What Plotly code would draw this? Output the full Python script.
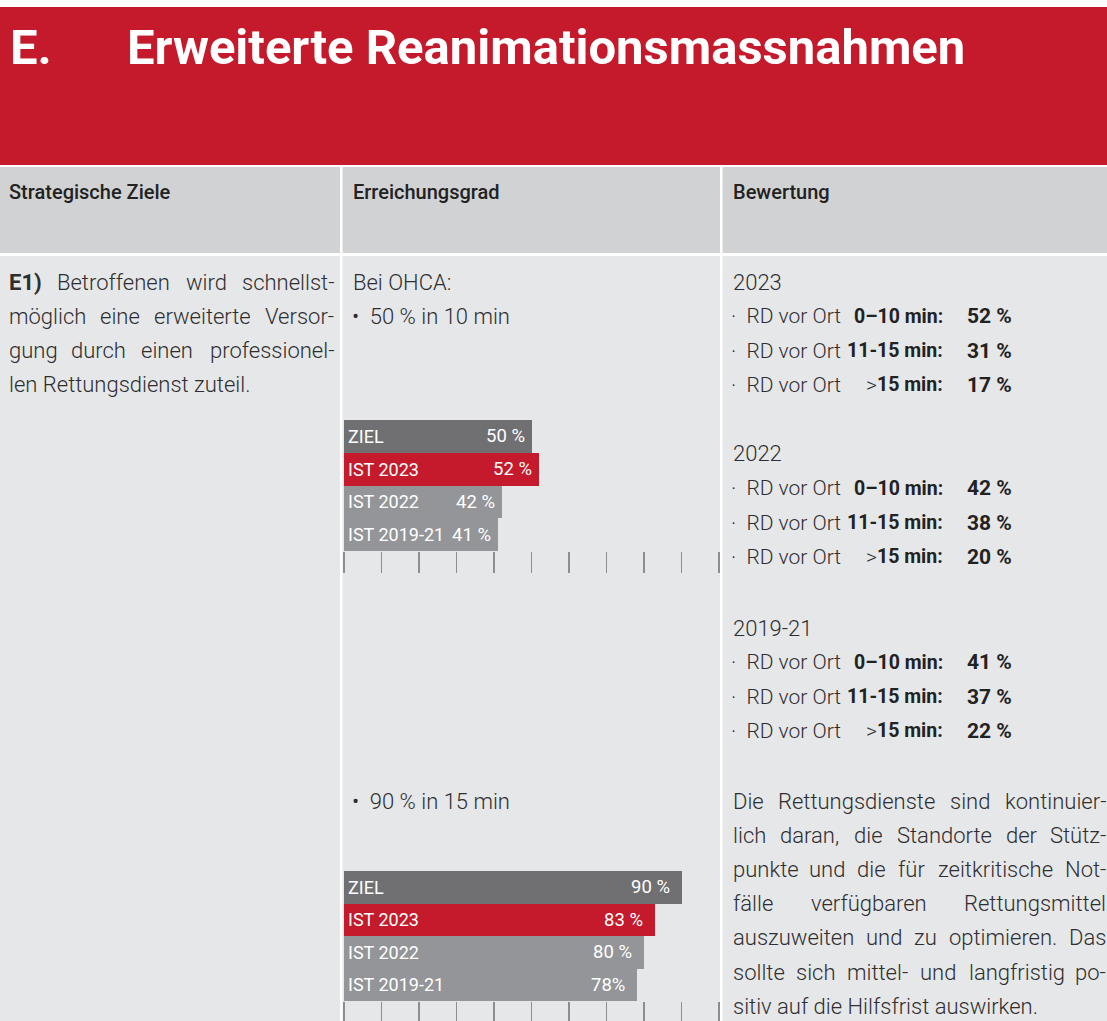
import plotly.graph_objects as go

W, H = 1107, 1021

# ---------------- data ----------------
categories = ["ZIEL", "IST 2023", "IST 2022", "IST 2019-21"]
ohca10_values = [50, 52, 42, 41]
ohca10_labels = ["50 %", "52 %", "42 %", "41 %"]
ohca15_values = [90, 83, 80, 78]
ohca15_labels = ["90 %", "83 %", "80 %", "78%"]

years = ["2023", "2022", "2019-21"]
share_0_10 = [52, 42, 41]
share_11_15 = [31, 38, 37]
share_over_15 = [17, 20, 22]

title_letter = "E."
title_text = "Erweiterte Reanimationsmassnahmen"
headers = ["Strategische Ziele", "Erreichungsgrad", "Bewertung"]

goal_lines = [
    "E1) Betroffenen wird schnellst-",
    "möglich eine erweiterte Versor-",
    "gung durch einen professionel-",
    "len Rettungsdienst zuteil.",
]
assessment_lines = [
    "Die Rettungsdienste sind kontinuier-",
    "lich daran, die Standorte der Stütz-",
    "punkte und die für zeitkritische Not-",
    "fälle verfügbaren Rettungsmittel",
    "auszuweiten und zu optimieren. Das",
    "sollte sich mittel- und langfristig po-",
    "sitiv auf die Hilfsfrist auswirken.",
]

# ---------------- styles ----------------
RED = "#c41a2b"
HEAD_BG = "#d1d2d4"
BODY_BG = "#e6e7e9"
DARK_BAR = "#707072"
GREY_BAR = "#939598"
TEXT = "#2e2e30"
FONT = "Roboto"
bar_colors = [DARK_BAR, RED, GREY_BAR, GREY_BAR]


def X(p):
    return p / W


def Y(p):
    return 1 - p / H


# approximate Roboto advance widths (em)
CW = {
    'a': .544, 'b': .561, 'c': .523, 'd': .564, 'e': .530, 'f': .347, 'g': .561, 'h': .551,
    'i': .243, 'j': .239, 'k': .507, 'l': .243, 'm': .876, 'n': .552, 'o': .570, 'p': .561,
    'q': .568, 'r': .338, 's': .516, 't': .327, 'u': .551, 'v': .484, 'w': .751, 'x': .496,
    'y': .473, 'z': .496, 'ü': .551, 'ä': .544, 'ö': .570, 'ß': .6,
    'A': .653, 'B': .623, 'C': .651, 'D': .656, 'E': .568, 'F': .553, 'G': .681, 'H': .713,
    'I': .272, 'K': .627, 'L': .539, 'M': .873, 'N': .713, 'O': .688, 'P': .631, 'R': .616,
    'S': .593, 'T': .597, 'U': .648, 'V': .636, 'W': .887, 'Z': .599,
    ' ': .248, '.': .263, ',': .196, '-': .276, ':': .242, ')': .342, '%': .732,
}


def tw(s, size, bold=False):
    w = sum(CW.get(c, .561) for c in s) * size
    return w * (1.06 if bold else 1.0)


fig = go.Figure()

# ---------------- background blocks ----------------
shapes = []


def rect(x0, y0, x1, y1, color):
    shapes.append(dict(type="rect", xref="paper", yref="paper",
                       x0=X(x0), x1=X(x1), y0=Y(y1), y1=Y(y0),
                       fillcolor=color, line=dict(width=0), layer="below"))


rect(0, 7, W, 165, RED)
rect(0, 167, W, 253, HEAD_BG)
rect(0, 256, W, H, BODY_BG)
# column separators
rect(340, 167, 342.5, H, "white")
rect(720, 167, 722.5, H, "white")

annotations = []


def txt(x, y, s, size=22, weight=300, color=TEXT, xanchor="left"):
    annotations.append(dict(xref="paper", yref="paper", x=X(x), y=Y(y), text=s,
                            showarrow=False, xanchor=xanchor, yanchor="middle",
                            font=dict(family=FONT, size=size, color=color, weight=weight)))


# ---------------- title & headers ----------------
txt(8, 48, title_letter, size=49, weight=700, color="white")
txt(125, 48, title_text, size=49, weight=700, color="white")
for hx, h in zip([7, 351, 731], headers):
    txt(hx, 192, h, size=20, weight=500, color="#222222")


# ---------------- justified paragraphs ----------------
def paragraph(lines, x_left, x_right, y0, dy, size=22):
    for i, line in enumerate(lines):
        y = y0 + i * dy
        words = line.split(" ")
        last = i == len(lines) - 1
        bold = [w == "E1)" for w in words]
        shown = [f"<b>{w}</b>" if b else w for w, b in zip(words, bold)]
        if last or len(words) == 1:
            txt(x_left, y, " ".join(shown), size=size)
            continue
        widths = [tw(w, size, b) for w, b in zip(words, bold)]
        gap = (x_right - x_left - sum(widths)) / (len(words) - 1)
        pos = x_left
        for j, (w, wd) in enumerate(zip(shown, widths)):
            if j == 0:
                txt(pos, y, w, size=size)
            elif j == len(words) - 1:
                txt(x_right, y, w, size=size, xanchor="right")
            else:
                txt(pos + wd / 2, y, w, size=size, xanchor="center")
            pos += wd + gap


paragraph(goal_lines, 7, 336, 282, 34.3)
paragraph(assessment_lines, 731, 1108, 801, 34.2)

# ---------------- middle column texts ----------------
txt(351, 282, "Bei OHCA:")
txt(350, 316, "•  50 % in 10 min")
txt(350, 801, "•  90 % in 15 min")

# ---------------- right column figures ----------------
block_y = [282, 454, 628]
for yr, a, b, c, y in zip(years, share_0_10, share_11_15, share_over_15, block_y):
    txt(731, y, yr)
    rows = [("0–10 min:", a), ("11-15 min:", b), ("15 min:", c)]
    for k, (lab, val) in enumerate(rows):
        yy = y + 34.3 * (k + 1)
        txt(729, yy, "·  RD vor Ort", size=21)
        if k == 2:
            txt(864, yy, ">", size=21)
        txt(945, yy, f"<b>{lab}</b>", size=19.5, weight=700, color="#222222", xanchor="right")
        txt(1014, yy, f"<b>{val} %</b>", size=21, weight=700, color="#222222", xanchor="right")

# ---------------- bar charts ----------------
fig.add_trace(go.Bar(y=categories, x=ohca10_values, orientation="h",
                     marker=dict(color=bar_colors, line=dict(width=0)),
                     xaxis="x", yaxis="y", showlegend=False, hoverinfo="skip"))
fig.add_trace(go.Bar(y=categories, x=ohca15_values, orientation="h",
                     marker=dict(color=bar_colors, line=dict(width=0)),
                     xaxis="x2", yaxis="y2", showlegend=False, hoverinfo="skip"))

for ax, ay, vals, labs, shift in [("x", "y", ohca10_values, ohca10_labels, -5),
                                  ("x2", "y2", ohca15_values, ohca15_labels, -10)]:
    for cat, v, lab in zip(categories, vals, labs):
        annotations.append(dict(xref=ax, yref=ay, x=0, y=cat, text=cat, showarrow=False,
                                xanchor="left", yanchor="middle", xshift=2,
                                font=dict(family=FONT, size=18, color="white", weight=400)))
        annotations.append(dict(xref=ax, yref=ay, x=v, y=cat, text=lab, showarrow=False,
                                xanchor="right", yanchor="middle", xshift=shift,
                                font=dict(family=FONT, size=18.5, color="white", weight=400)))

xdom = [X(344), X(719)]
xaxis_style = dict(range=[0, 100], tick0=0, dtick=10, ticks="outside", ticklen=21,
                   tickwidth=1.5, tickcolor="#8d8e90", showticklabels=False,
                   showgrid=False, zeroline=False, showline=False, fixedrange=True)
yaxis_style = dict(type="category", autorange="reversed", showticklabels=False,
                   ticks="", showgrid=False, zeroline=False, showline=False, fixedrange=True)

fig.update_layout(
    width=W, height=H,
    margin=dict(l=0, r=0, t=0, b=0),
    paper_bgcolor="white",
    plot_bgcolor="rgba(0,0,0,0)",
    bargap=0,
    xaxis=dict(domain=xdom, anchor="y", **xaxis_style),
    yaxis=dict(domain=[Y(551), Y(420)], anchor="x", **yaxis_style),
    xaxis2=dict(domain=xdom, anchor="y2", **xaxis_style),
    yaxis2=dict(domain=[Y(1001), Y(871)], anchor="x2", **yaxis_style),
    shapes=shapes,
    annotations=annotations,
    showlegend=False,
)

fig.write_html("out.html",
               config={"displayModeBar": False, "staticPlot": True},
               post_script="document.body.style.margin='0';document.body.style.overflow='hidden';")
